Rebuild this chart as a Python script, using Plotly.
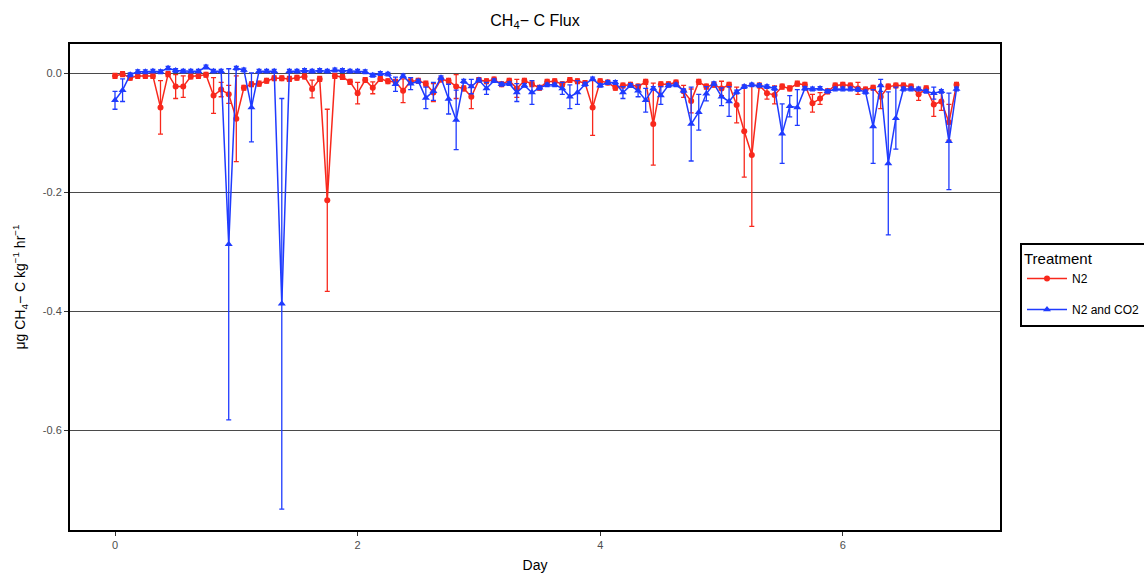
import numpy as np
import plotly.graph_objects as go

# sampling: every 1.5 h (1/16 day)
day = np.arange(112) * 0.0625

n2 = [-0.004, -0.001, -0.007, -0.004, -0.004, -0.004, -0.057, -0.001, -0.022, -0.022,
      -0.005, -0.004, -0.002, -0.037, -0.027, -0.035, -0.076, -0.024, -0.018, -0.017,
      -0.012, -0.008, -0.008, -0.009, -0.007, -0.005, -0.026, -0.009, -0.213, -0.004,
      -0.006, -0.014, -0.033, -0.011, -0.024, -0.009, -0.013, -0.014, -0.029, -0.013,
      -0.012, -0.017, -0.032, -0.010, -0.012, -0.022, -0.025, -0.039, -0.011, -0.013,
      -0.010, -0.018, -0.012, -0.025, -0.012, -0.018, -0.024, -0.014, -0.013, -0.018,
      -0.011, -0.013, -0.016, -0.057, -0.013, -0.015, -0.024, -0.020, -0.019, -0.022,
      -0.014, -0.085, -0.018, -0.018, -0.015, -0.030, -0.046, -0.014, -0.022, -0.019,
      -0.025, -0.019, -0.053, -0.097, -0.137, -0.020, -0.033, -0.036, -0.022, -0.025,
      -0.017, -0.019, -0.050, -0.042, -0.030, -0.020, -0.019, -0.020, -0.025, -0.027,
      -0.024, -0.039, -0.022, -0.020, -0.020, -0.022, -0.035, -0.025, -0.052, -0.047,
      -0.082, -0.019]

n2_se = [0.004, 0.004, 0.004, 0.004, 0.004, 0.004, 0.045, 0.004, 0.020, 0.018,
         0.004, 0.004, 0.004, 0.030, 0.012, 0.015, 0.072, 0.004, 0.004, 0.004,
         0.004, 0.004, 0.004, 0.004, 0.004, 0.004, 0.015, 0.004, 0.153, 0.004,
         0.004, 0.004, 0.018, 0.004, 0.010, 0.004, 0.004, 0.004, 0.020, 0.004,
         0.004, 0.004, 0.015, 0.004, 0.004, 0.020, 0.004, 0.020, 0.004, 0.004,
         0.004, 0.004, 0.004, 0.015, 0.004, 0.004, 0.004, 0.004, 0.004, 0.004,
         0.004, 0.004, 0.004, 0.047, 0.004, 0.004, 0.004, 0.004, 0.004, 0.004,
         0.004, 0.069, 0.004, 0.004, 0.004, 0.010, 0.020, 0.004, 0.004, 0.004,
         0.012, 0.004, 0.030, 0.077, 0.120, 0.004, 0.010, 0.015, 0.004, 0.004,
         0.004, 0.004, 0.015, 0.010, 0.004, 0.004, 0.004, 0.004, 0.010, 0.004,
         0.004, 0.020, 0.004, 0.004, 0.004, 0.004, 0.010, 0.004, 0.020, 0.015,
         0.030, 0.004]

n2co2 = [-0.045, -0.028, -0.002, 0.003, 0.003, 0.004, 0.003, 0.009, 0.005, 0.004,
         0.004, 0.004, 0.011, 0.004, 0.004, -0.287, 0.009, 0.006, -0.057, 0.004,
         0.004, 0.004, -0.387, 0.004, 0.004, 0.005, 0.004, 0.005, 0.004, 0.006,
         0.005, 0.004, 0.004, 0.003, -0.003, 0.000, -0.001, -0.018, -0.004, -0.017,
         -0.013, -0.041, -0.030, -0.007, -0.043, -0.078, -0.013, -0.022, -0.011, -0.025,
         -0.012, -0.018, -0.017, -0.032, -0.020, -0.032, -0.024, -0.019, -0.019, -0.025,
         -0.039, -0.032, -0.018, -0.009, -0.020, -0.015, -0.015, -0.032, -0.020, -0.029,
         -0.045, -0.025, -0.037, -0.020, -0.019, -0.029, -0.085, -0.065, -0.034, -0.017,
         -0.039, -0.047, -0.031, -0.022, -0.019, -0.020, -0.022, -0.025, -0.101, -0.055,
         -0.057, -0.025, -0.026, -0.025, -0.030, -0.026, -0.026, -0.026, -0.027, -0.031,
         -0.089, -0.020, -0.151, -0.075, -0.026, -0.026, -0.026, -0.030, -0.033, -0.030,
         -0.114, -0.026]

n2co2_se = [0.015, 0.019, 0.003, 0.003, 0.003, 0.003, 0.003, 0.003, 0.003, 0.003,
            0.003, 0.003, 0.003, 0.003, 0.003, 0.295, 0.003, 0.003, 0.058, 0.003,
            0.003, 0.003, 0.345, 0.003, 0.003, 0.003, 0.003, 0.003, 0.003, 0.003,
            0.003, 0.003, 0.003, 0.003, 0.003, 0.003, 0.003, 0.012, 0.003, 0.010,
            0.003, 0.018, 0.015, 0.003, 0.025, 0.050, 0.003, 0.012, 0.003, 0.010,
            0.003, 0.003, 0.003, 0.015, 0.003, 0.020, 0.003, 0.003, 0.003, 0.010,
            0.020, 0.020, 0.003, 0.003, 0.003, 0.003, 0.003, 0.010, 0.003, 0.010,
            0.020, 0.003, 0.015, 0.003, 0.003, 0.003, 0.062, 0.030, 0.012, 0.003,
            0.015, 0.025, 0.003, 0.003, 0.003, 0.003, 0.003, 0.003, 0.050, 0.018,
            0.030, 0.003, 0.003, 0.003, 0.003, 0.003, 0.003, 0.003, 0.003, 0.003,
            0.062, 0.010, 0.120, 0.052, 0.003, 0.003, 0.003, 0.003, 0.010, 0.003,
            0.081, 0.003]

RED = "#F8281C"
BLUE = "#1F3BFF"

fig = go.Figure()
fig.add_trace(go.Scatter(
    x=day, y=n2, mode="lines+markers", name="N2", legendgroup="a",
    line=dict(color=RED, width=1.5),
    marker=dict(color=RED, size=6, symbol="circle"),
    error_y=dict(type="data", array=n2_se, visible=True, color=RED, thickness=1.3, width=2.5),
))
fig.add_trace(go.Scatter(
    x=day, y=n2co2, mode="lines+markers", name="N2 and CO2", legendgroup="b",
    line=dict(color=BLUE, width=1.5),
    marker=dict(color=BLUE, size=7, symbol="triangle-up"),
    error_y=dict(type="data", array=n2co2_se, visible=True, color=BLUE, thickness=1.3, width=2.5),
))

fig.update_layout(
    width=1144, height=573,
    margin=dict(l=70, r=144, t=44, b=43, autoexpand=False),
    paper_bgcolor="white", plot_bgcolor="white",
    font=dict(family="Liberation Sans, Arial, sans-serif", color="black"),
    title=dict(text="CH<sub>4</sub>\u2212 C Flux", x=(70 + 1000) / 2 / 1144, xanchor="center",
               y=0.965, yanchor="middle", font=dict(size=16, color="black")),
    xaxis=dict(range=[-0.371, 7.296], tickvals=[0, 2, 4, 6], ticktext=["0", "2", "4", "6"],
               showgrid=False, zeroline=False, showline=True, linecolor="black", linewidth=2,
               mirror=True, ticks="outside", ticklen=4, tickcolor="#333333",
               tickfont=dict(size=11, color="#4d4d4d"), automargin=False,
               title=dict(text="Day", font=dict(size=14, color="black"), standoff=10)),
    yaxis=dict(range=[-0.767, 0.0496], tickvals=[0, -0.2, -0.4, -0.6],
               ticktext=["0.0", "-0.2", "-0.4", "-0.6"],
               showgrid=True, gridcolor="#4a4a4a", gridwidth=1, zeroline=False,
               showline=True, linecolor="black", linewidth=2, mirror=True,
               ticks="outside", ticklen=4, tickcolor="#333333",
               tickfont=dict(size=11, color="#4d4d4d"), automargin=False,
               title=dict(text="\u03bcg CH<sub>4</sub>\u2212 C kg<sup>\u22121</sup> hr<sup>\u22121</sup>",
                          font=dict(size=14, color="black"), standoff=14)),
    legend=dict(x=(1020 - 70) / 930, xanchor="left", y=0.505, yanchor="middle",
                bordercolor="black", borderwidth=2, bgcolor="white",
                title=dict(text="Treatment  ", font=dict(size=15)),
                font=dict(size=12), tracegroupgap=12, itemwidth=40),
    showlegend=True,
)

fig.write_html("out.html")
